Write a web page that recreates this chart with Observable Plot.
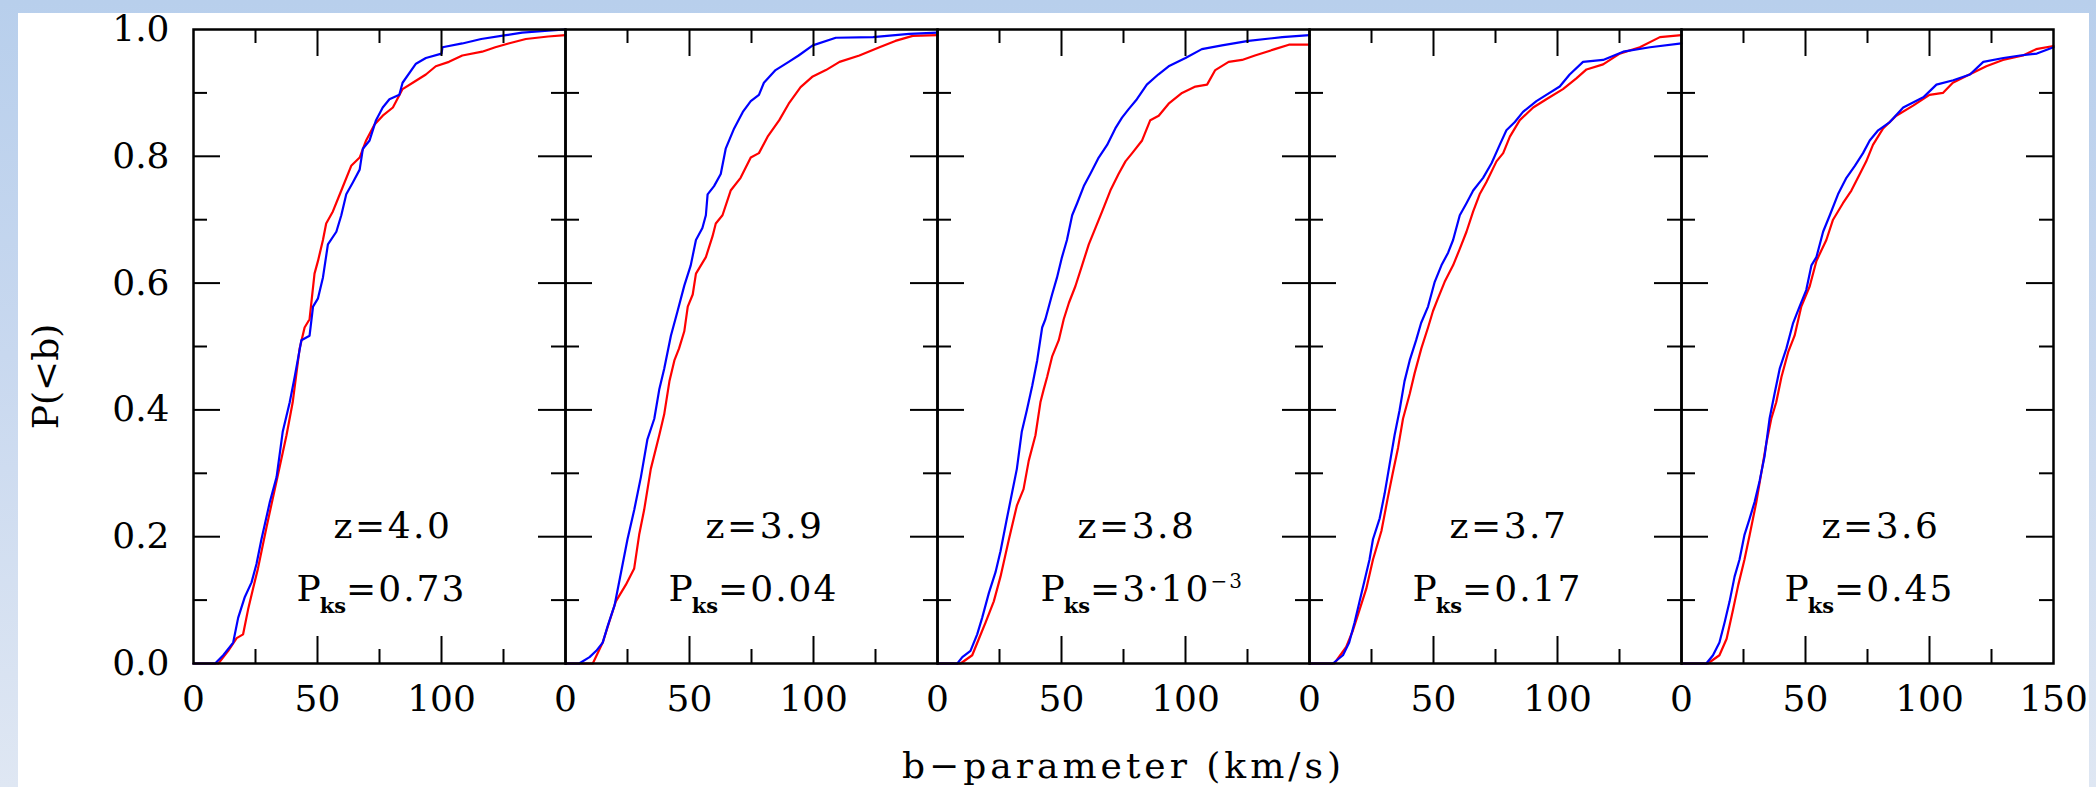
<!DOCTYPE html>
<html>
<head>
<meta charset="utf-8">
<script src="https://cdn.jsdelivr.net/npm/d3@7"></script>
<script src="https://cdn.jsdelivr.net/npm/@observablehq/plot@0.6"></script>
<style>
html, body { margin: 0; padding: 0; background: #ffffff; }
#page { position: relative; width: 2096px; height: 787px; overflow: hidden;
  background: linear-gradient(to bottom, #b8cfec 0%, #c8d8ef 45%, #dfe7f3 100%); }
#sheet { position: absolute; left: 18px; top: 13px; right: 7px; bottom: 0; background: #ffffff; }
#chart { position: absolute; left: 0; top: 0; width: 2096px; height: 787px; }
</style>
</head>
<body>
<div id="page"><div id="sheet"></div><div id="chart"></div></div>
<script>
// ---- panel labels ----
const panels = ["z=4.0", "z=3.9", "z=3.8", "z=3.7", "z=3.6"];
const pks = ["0.73", "0.04", "3·10^−3", "0.17", "0.45"];

// ---- tick values ----
const xTickLabels = [0, 50, 100];
const xTickLabelsLast = [0, 50, 100, 150];
const yTickLabels = [0, 0.2, 0.4, 0.6, 0.8, 1.0];
const xMajor = [50, 100];
const xMinor = [25, 75, 125];
const yMajor = [0.2, 0.4, 0.6, 0.8];
const yMinor = [0.1, 0.3, 0.5, 0.7, 0.9];

// ---- cumulative distributions [b (km/s), P(<b)] ----
const red40 = [[0,0],[10,0],[14,0.02],[17.4,0.04],[20,0.046],[22,0.085],[24,0.118],[26,0.15],[29.5,0.216],[33.5,0.288],[37.5,0.36],[40,0.412],[42.8,0.497],[44.8,0.53],[46.8,0.543],[48.8,0.615],[50.2,0.635],[52.2,0.668],[53.5,0.694],[56.2,0.713],[59.6,0.746],[63.6,0.785],[67,0.798],[69.6,0.825],[73,0.85],[76.3,0.864],[80.4,0.877],[84.3,0.906],[88.4,0.916],[93.7,0.929],[97.7,0.942],[103,0.949],[108.4,0.959],[116.4,0.965],[121.7,0.972],[127,0.978],[134,0.985],[143,0.989],[150,0.991]];
const blue40 = [[0,0],[8.7,0],[12,0.013],[16,0.033],[18,0.072],[20.7,0.105],[23.4,0.128],[25.4,0.157],[27.4,0.196],[30.8,0.255],[33.5,0.294],[36,0.366],[38.8,0.412],[40.8,0.452],[43.5,0.51],[46.8,0.517],[48.2,0.563],[50.2,0.576],[52.2,0.609],[54.2,0.661],[57.6,0.681],[59.6,0.707],[61.6,0.74],[64.3,0.759],[67,0.779],[68.3,0.812],[71,0.825],[73.6,0.857],[76.3,0.877],[79,0.89],[83,0.897],[84.3,0.916],[89.7,0.946],[93.7,0.955],[100,0.962],[100.4,0.972],[108.4,0.978],[116,0.985],[126,0.991],[132.5,0.995],[143,0.998],[150,1.0]];
const red39 = [[0,0],[11,0],[15,0.033],[17.6,0.065],[20.3,0.098],[24.3,0.124],[27.7,0.15],[29.7,0.203],[31.7,0.242],[34.4,0.307],[37.8,0.36],[39.8,0.393],[41.9,0.445],[43.9,0.478],[45.8,0.497],[47.9,0.524],[49.3,0.563],[51.3,0.582],[52.6,0.615],[56.6,0.641],[59.3,0.674],[60.6,0.694],[63.3,0.707],[66.6,0.746],[70.6,0.766],[74.7,0.798],[78,0.805],[81.5,0.831],[86.2,0.857],[90,0.883],[94.8,0.909],[99.7,0.926],[105,0.936],[110.5,0.949],[118.5,0.959],[126.6,0.972],[133,0.982],[140,0.99],[150,0.991]];
const blue39 = [[0,0],[5.5,0],[9.7,0.01],[12.4,0.02],[15,0.033],[17,0.059],[19.8,0.092],[22.4,0.144],[25,0.196],[27.7,0.242],[30.4,0.294],[33,0.353],[35.8,0.386],[37.8,0.432],[39.8,0.465],[42.5,0.517],[45.2,0.556],[47.9,0.596],[50.5,0.628],[52.6,0.668],[55.2,0.687],[56.6,0.707],[57.3,0.74],[59.9,0.753],[62.6,0.772],[64.6,0.812],[68,0.844],[71.5,0.87],[74.7,0.887],[78,0.897],[80,0.916],[84.7,0.936],[90,0.949],[94,0.959],[99.7,0.975],[109,0.987],[124,0.988],[138.6,0.993],[150,0.995]];
const red38 = [[0,0],[9.3,0],[14,0.013],[16.7,0.039],[19.4,0.065],[22.7,0.098],[25.4,0.137],[28.8,0.196],[32,0.249],[34.7,0.275],[36.8,0.32],[39.5,0.36],[41.5,0.412],[42.8,0.432],[44.2,0.452],[46.2,0.484],[48.9,0.51],[50.9,0.543],[53,0.569],[55.6,0.595],[58.3,0.628],[61,0.661],[63.7,0.687],[66.4,0.713],[69.7,0.746],[73,0.772],[75.8,0.792],[78.5,0.805],[82.5,0.825],[85.8,0.857],[89.2,0.864],[93.2,0.883],[98.6,0.9],[104,0.91],[108.7,0.913],[112,0.936],[117.4,0.949],[122.8,0.952],[128,0.959],[136,0.969],[141.7,0.976],[150,0.976]];
const blue38 = [[0,0],[8,0],[10,0.01],[13.3,0.02],[16,0.046],[18,0.072],[20.7,0.111],[23.4,0.144],[25.4,0.177],[28,0.229],[30,0.268],[32,0.307],[34,0.366],[36,0.399],[38.2,0.438],[40.2,0.478],[42.2,0.53],[43.5,0.543],[46.2,0.582],[48.2,0.609],[50.2,0.641],[52.2,0.668],[54.3,0.707],[56.3,0.726],[59,0.753],[61.6,0.772],[65,0.798],[68.4,0.818],[71.7,0.844],[74.4,0.861],[77,0.874],[80.4,0.89],[84.4,0.913],[89,0.929],[93.2,0.942],[100,0.955],[106.6,0.969],[114.7,0.975],[125.4,0.982],[139,0.988],[150,0.991]];
const red37 = [[0,0],[10,0],[14.8,0.026],[17.5,0.052],[20.2,0.085],[22.9,0.118],[25.6,0.164],[29,0.209],[31.6,0.262],[33.6,0.301],[35.7,0.34],[37.7,0.386],[40.4,0.425],[42.4,0.458],[45.1,0.497],[47.8,0.53],[49.8,0.556],[51.8,0.576],[54.5,0.602],[57.9,0.628],[60.6,0.654],[63.3,0.681],[66,0.713],[68.6,0.74],[71.3,0.759],[75.4,0.792],[78.1,0.805],[80.8,0.831],[84.8,0.857],[90.2,0.877],[95.5,0.89],[102.2,0.906],[107.6,0.923],[111.7,0.937],[118.4,0.945],[125.1,0.962],[133.2,0.972],[141.3,0.988],[150,0.991]];
const blue37 = [[0,0],[9.4,0],[13.5,0.013],[16,0.033],[18.2,0.065],[20.2,0.098],[22.2,0.131],[24.2,0.164],[25.6,0.196],[28.3,0.229],[30.3,0.268],[32.3,0.314],[34.3,0.36],[36.3,0.399],[38.3,0.445],[40.4,0.478],[43,0.51],[45,0.537],[47.8,0.563],[50.5,0.602],[53.2,0.628],[55.9,0.648],[57.9,0.668],[60.6,0.707],[63.3,0.726],[66,0.746],[70,0.766],[73.4,0.789],[76.7,0.818],[79.4,0.841],[82.8,0.854],[86.1,0.87],[91.5,0.887],[95.5,0.897],[100.9,0.91],[104.9,0.929],[110.3,0.949],[118.4,0.952],[126.5,0.965],[137.3,0.972],[150,0.978]];
const red36 = [[0,0],[10.6,0],[15.3,0.013],[18.2,0.039],[20.8,0.085],[22.9,0.124],[25.4,0.164],[27.5,0.203],[30.2,0.255],[32.2,0.301],[34.2,0.347],[36.2,0.386],[38.2,0.412],[40.3,0.452],[43,0.491],[45.6,0.517],[48.3,0.563],[51.7,0.595],[54.4,0.635],[58.4,0.668],[61.1,0.7],[65.1,0.726],[68.5,0.746],[71.9,0.772],[74.5,0.792],[77.2,0.818],[81.3,0.844],[86.6,0.864],[93.4,0.88],[100,0.897],[105.4,0.9],[109.4,0.916],[116.1,0.929],[122.9,0.942],[129.6,0.952],[137.7,0.959],[143,0.969],[150,0.974]];
const blue36 = [[0,0],[10,0],[12.7,0.013],[15.3,0.033],[17.4,0.065],[19.4,0.098],[21.4,0.137],[23.4,0.164],[25.4,0.203],[27.5,0.229],[29.5,0.255],[31.5,0.288],[33.5,0.327],[35.5,0.386],[37.5,0.425],[39.6,0.465],[42.3,0.497],[45,0.537],[47.6,0.563],[50.3,0.589],[52.4,0.628],[54.4,0.641],[57.1,0.681],[59.8,0.707],[63.1,0.74],[66.5,0.766],[69.9,0.785],[73.2,0.805],[75.9,0.825],[79.3,0.841],[84,0.854],[89.4,0.877],[97.5,0.893],[102.8,0.913],[109.6,0.92],[116.3,0.929],[121.7,0.949],[129.8,0.955],[136.5,0.959],[143.3,0.962],[150,0.972]];

const redCurves = [red40, red39, red38, red37, red36];
const blueCurves = [blue40, blue39, blue38, blue37, blue36];

// ---- tables built from the arrays ----
const toRows = (curves) => panels.flatMap((z, i) => curves[i].map(([b, p]) => ({z, b, p})));
const redRows = toRows(redCurves);
const blueRows = toRows(blueCurves);
const xLabelRows = panels.flatMap((z, i) => (i === panels.length - 1 ? xTickLabelsLast : xTickLabels).map(v => ({z, v})));
const pksRows = panels.map((z, i) => ({z, t: "P_ks=" + pks[i]}));

const W = 2096, H = 787;
const mL = 193, mR = 43, mT = 29, mB = 124;
const innerH = H - mT - mB;
const panelW = (W - mL - mR) / panels.length;
const FONT = "DejaVu Serif";

const chart = Plot.plot({
  width: W,
  height: H,
  marginLeft: mL, marginRight: mR, marginTop: mT, marginBottom: mB,
  style: {background: "transparent", fontFamily: FONT, fontSize: "36px", color: "black"},
  fx: {domain: panels, padding: 0, axis: null},
  x: {domain: [0, 150], axis: null},
  y: {domain: [0, 1], axis: null},
  marks: [
    // curves
    Plot.line(redRows, {x: "b", y: "p", fx: "z", stroke: "#ff0000", strokeWidth: 2.2}),
    Plot.line(blueRows, {x: "b", y: "p", fx: "z", stroke: "#0000ff", strokeWidth: 2.2}),
    // frame of each panel
    Plot.frame({stroke: "black", strokeWidth: 2.5}),
    // inward ticks: bottom / top
    Plot.tickX(xMajor, {x: d => d, insetTop: innerH - 27, stroke: "black", strokeWidth: 2}),
    Plot.tickX(xMinor, {x: d => d, insetTop: innerH - 14, stroke: "black", strokeWidth: 2}),
    Plot.tickX(xMajor, {x: d => d, insetBottom: innerH - 27, stroke: "black", strokeWidth: 2}),
    Plot.tickX(xMinor, {x: d => d, insetBottom: innerH - 14, stroke: "black", strokeWidth: 2}),
    // inward ticks: left / right
    Plot.tickY(yMajor, {y: d => d, insetRight: panelW - 27, stroke: "black", strokeWidth: 2}),
    Plot.tickY(yMinor, {y: d => d, insetRight: panelW - 14, stroke: "black", strokeWidth: 2}),
    Plot.tickY(yMajor, {y: d => d, insetLeft: panelW - 27, stroke: "black", strokeWidth: 2}),
    Plot.tickY(yMinor, {y: d => d, insetLeft: panelW - 14, stroke: "black", strokeWidth: 2}),
    // x tick labels
    Plot.text(xLabelRows, {x: "v", fx: "z", text: d => String(d.v), frameAnchor: "bottom",
      dy: 36, lineAnchor: "middle", fontSize: 36, fill: "black"}),
    // y tick labels (first panel only)
    Plot.text(yTickLabels, {y: d => d, fx: () => panels[0], text: d => d.toFixed(1),
      frameAnchor: "left", dx: -24, textAnchor: "end", lineAnchor: "middle", fontSize: 36, fill: "black"}),
    // y axis title
    Plot.text(["P(<b)"], {fx: () => panels[0], text: d => d, frameAnchor: "left",
      dx: -136, dy: 30, rotate: -90, textAnchor: "middle", lineAnchor: "bottom", fontSize: 36, fill: "black"}),
    // x axis title
    Plot.text(["b−parameter (km/s)"], {fx: () => panels[2], text: d => d, frameAnchor: "bottom",
      dy: 114, textAnchor: "middle", lineAnchor: "bottom", fontSize: 36, fill: "black"}),
    // panel annotations
    Plot.text(panels, {fx: d => d, text: d => d, frameAnchor: "bottom-left",
      dx: 140, dy: -126, textAnchor: "start", lineAnchor: "bottom", fontSize: 36, fill: "black"}),
    Plot.text(pksRows, {fx: "z", text: "t", frameAnchor: "bottom-left",
      dx: 103, dy: -63, textAnchor: "start", lineAnchor: "bottom", fontSize: 36, fill: "black"})
  ]
});

// rich text: subscript "ks", superscript exponent, letter spacing
d3.select(chart).selectAll("text").each(function () {
  const t = this.textContent;
  const sel = d3.select(this);
  if (t.startsWith("P_ks=")) {
    const val = t.slice(5);
    const [base, sup] = val.split("^");
    sel.text(null).style("letter-spacing", "2px");
    sel.append("tspan").text("P");
    sel.append("tspan").attr("dx", -3).attr("dy", 12).attr("font-size", 21).attr("font-weight", "bold")
      .style("letter-spacing", "0px").text("ks");
    sel.append("tspan").attr("dy", -12).text("=" + base);
    if (sup) sel.append("tspan").attr("dy", -13).attr("font-size", 20).text(sup);
  } else if (t.startsWith("b−parameter")) {
    sel.style("letter-spacing", "4px");
  } else if (t.startsWith("z=")) {
    sel.style("letter-spacing", "2.5px");
  }
});

document.getElementById("chart").appendChild(chart);
</script>
</body>
</html>
